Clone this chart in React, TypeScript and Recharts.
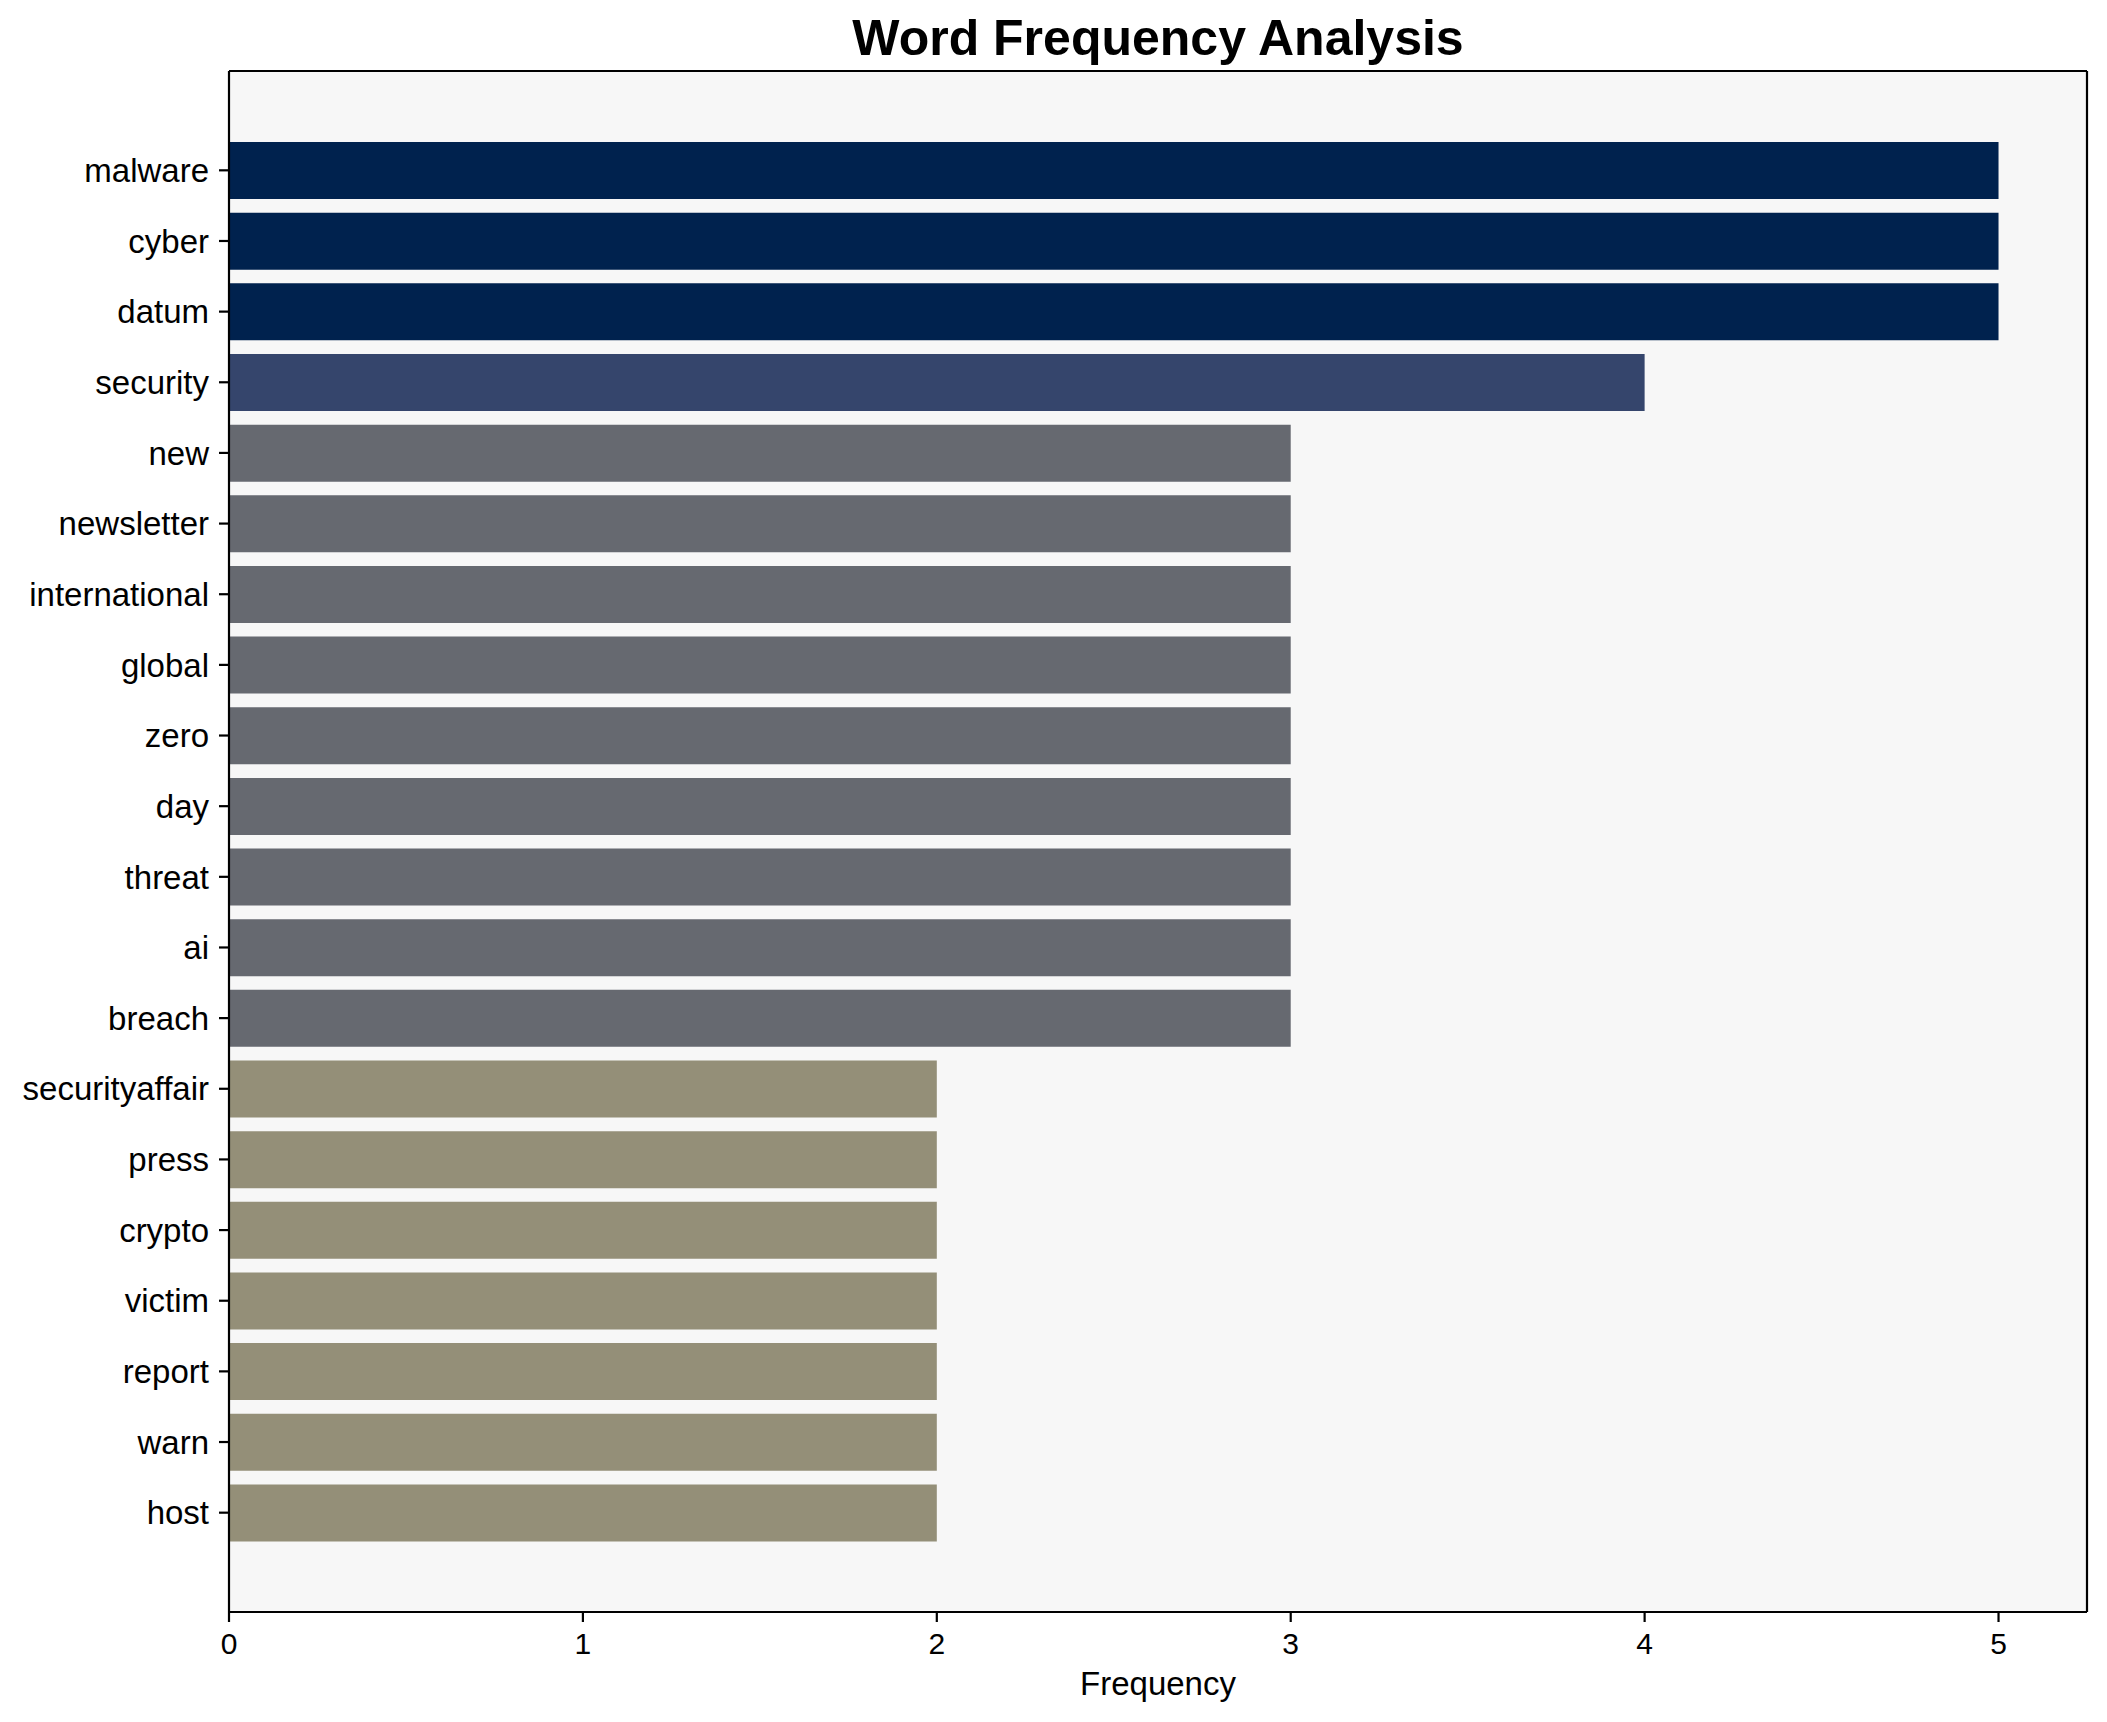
import React from 'react';
import { BarChart, Bar, XAxis, YAxis, CartesianGrid, Cell } from 'recharts';

const words = [
  'malware', 'cyber', 'datum', 'security', 'new', 'newsletter', 'international',
  'global', 'zero', 'day', 'threat', 'ai', 'breach', 'securityaffair', 'press',
  'crypto', 'victim', 'report', 'warn', 'host',
];
const counts = [5, 5, 5, 4, 3, 3, 3, 3, 3, 3, 3, 3, 3, 2, 2, 2, 2, 2, 2, 2];
const xTicks = [0, 1, 2, 3, 4, 5];
const palette: Record<number, string> = {
  5: '#00224e',
  4: '#35456c',
  3: '#666970',
  2: '#948f78',
};

const data = words.map((w, i) => ({ word: w, count: counts[i] }));

const FONT = '"Liberation Sans", Arial, Helvetica, sans-serif';

export default function App() {
  return (
    <div
      style={{
        position: 'absolute',
        left: 0,
        top: 0,
        width: 2107,
        height: 1722,
        background: '#ffffff',
        fontFamily: FONT,
      }}
    >
      <div
        style={{
          position: 'absolute',
          left: 229,
          width: 1858,
          top: 13,
          textAlign: 'center',
          fontSize: 50,
          lineHeight: '50px',
          fontWeight: 'bold',
          color: '#000',
          fontFamily: FONT,
        }}
      >
        Word Frequency Analysis
      </div>
      <BarChart
        width={2107}
        height={1722}
        data={data}
        layout="vertical"
        margin={{ top: 71, right: 20, left: 0, bottom: 0 }}
        barCategoryGap="10%"
      >
        <CartesianGrid
          fill="#f7f7f7"
          stroke="#000"
          strokeWidth={2.2}
          horizontalCoordinatesGenerator={({ offset }: any) => [offset.top]}
          verticalCoordinatesGenerator={({ offset }: any) => [offset.left + offset.width]}
        />
        <XAxis
          type="number"
          domain={[0, 5.25]}
          ticks={xTicks}
          height={110}
          tickSize={10}
          tickMargin={11}
          axisLine={{ stroke: '#000', strokeWidth: 2.2 }}
          tickLine={{ stroke: '#000', strokeWidth: 2.2 }}
          tick={{ fill: '#000', fontSize: 30, fontFamily: FONT }}
          label={{
            value: 'Frequency',
            position: 'insideBottom',
            offset: 27,
            fill: '#000',
            fontSize: 33,
            fontFamily: FONT,
          }}
        />
        <YAxis
          type="category"
          dataKey="word"
          width={229}
          padding={{ top: 64, bottom: 64 }}
          tickSize={10}
          tickMargin={10}
          interval={0}
          axisLine={{ stroke: '#000', strokeWidth: 2.2 }}
          tickLine={{ stroke: '#000', strokeWidth: 2.2 }}
          tick={{ fill: '#000', fontSize: 33, fontFamily: FONT }}
        />
        <Bar dataKey="count" isAnimationActive={false}>
          {data.map((d, i) => (
            <Cell key={i} fill={palette[d.count]} />
          ))}
        </Bar>
      </BarChart>
    </div>
  );
}
